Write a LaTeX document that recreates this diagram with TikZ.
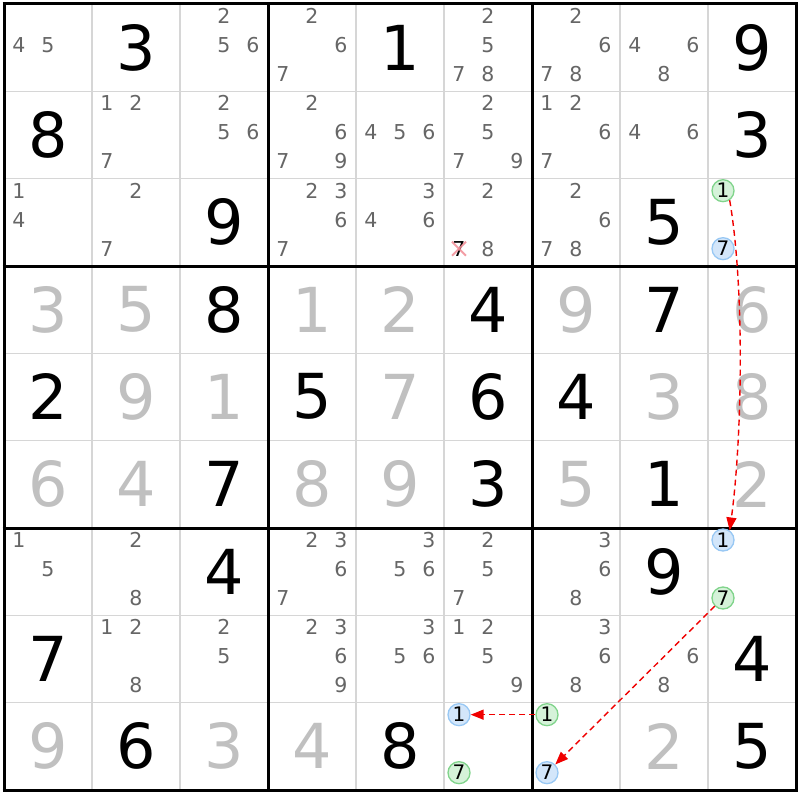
\documentclass[tikz,border=0pt]{standalone}
\usepackage{fontspec}
\setmainfont{DejaVu Sans}
\usetikzlibrary{arrows.meta}
\definecolor{pencil}{HTML}{666666}
\definecolor{solvedgray}{HTML}{C0C0C0}
\definecolor{gridgray}{HTML}{D6D6D6}
\definecolor{gfill}{HTML}{D5F2D9}
\definecolor{gdraw}{HTML}{80D48B}
\definecolor{bfill}{HTML}{D3E6FA}
\definecolor{bdraw}{HTML}{98C8F4}
\definecolor{linkred}{HTML}{F00000}
\definecolor{xpink}{HTML}{F28C96}
\newcommand\bigdig[4]{%
  \pgfmathsetmacro\bx{4+88*#3+44}%
  \pgfmathsetmacro\by{4+87.333*#2+43.5}%
  \node[#1] (d#2#3) at (\bx,\by) {#4};}
\newcommand\pmarks[3]{%
  \foreach \d in {#3}{%
    \pgfmathsetmacro\px{4+88*#2+15+29*mod(\d-1,3)}%
    \pgfmathsetmacro\py{4+87.333*#1+12+29*floor((\d-1)/3)}%
    \node[pmark] (p#1#2-\d) at (\px,\py) {\d};}}
\newcommand\cand[4]{%
  \pgfmathsetmacro\px{4+88*#3+15+29*mod(#4-1,3)}%
  \pgfmathsetmacro\py{4+87.333*#2+12+29*floor((#4-1)/3)}%
  \node[#1] (c#2#3-#4) at (\px,\py) {#4};}
\begin{document}
\begin{tikzpicture}[x=1pt,y=-1pt,
  given/.style={font=\fontsize{62}{62}\selectfont, text=black, inner sep=0pt},
  solved/.style={given, text=solvedgray},
  pmark/.style={font=\fontsize{20.5}{20.5}\selectfont, text=pencil, inner sep=0pt},
  gcand/.style={circle, draw=gdraw, fill=gfill, line width=1.3pt, minimum size=22pt, inner sep=0pt, font=\fontsize{20}{20}\selectfont, text=black},
  bcand/.style={gcand, draw=bdraw, fill=bfill},
  link/.style={draw=linkred, dash pattern=on 6pt off 4pt, line width=1.4pt, -{Triangle[length=13pt,width=10pt,fill=linkred]}},
  thinline/.style={draw=gridgray, line width=1.6pt},
  thickline/.style={draw=black, line width=3pt},
]
\useasboundingbox (0,0) rectangle (800,800);
\fill[white] (0,0) rectangle (800,800);
% thin grid
\foreach \i in {1,2,4,5,7,8}{
  \draw[thinline] (4+88*\i,4) -- (4+88*\i,790);
  \draw[thinline] (4,4+87.333*\i) -- (796,4+87.333*\i);
}
% thick grid
\foreach \i in {0,3,6,9}{
  \draw[thickline] (4+88*\i,2.5) -- (4+88*\i,791.5);
  \draw[thickline] (2.5,4+87.333*\i) -- (797.5,4+87.333*\i);
}
% givens
\bigdig{given}{0}{1}{3}
\bigdig{given}{0}{4}{1}
\bigdig{given}{0}{8}{9}
\bigdig{given}{1}{0}{8}
\bigdig{given}{1}{8}{3}
\bigdig{given}{2}{2}{9}
\bigdig{given}{2}{7}{5}
\bigdig{solved}{3}{0}{3}
\bigdig{solved}{3}{1}{5}
\bigdig{given}{3}{2}{8}
\bigdig{solved}{3}{3}{1}
\bigdig{solved}{3}{4}{2}
\bigdig{given}{3}{5}{4}
\bigdig{solved}{3}{6}{9}
\bigdig{given}{3}{7}{7}
\bigdig{solved}{3}{8}{6}
\bigdig{given}{4}{0}{2}
\bigdig{solved}{4}{1}{9}
\bigdig{solved}{4}{2}{1}
\bigdig{given}{4}{3}{5}
\bigdig{solved}{4}{4}{7}
\bigdig{given}{4}{5}{6}
\bigdig{given}{4}{6}{4}
\bigdig{solved}{4}{7}{3}
\bigdig{solved}{4}{8}{8}
\bigdig{solved}{5}{0}{6}
\bigdig{solved}{5}{1}{4}
\bigdig{given}{5}{2}{7}
\bigdig{solved}{5}{3}{8}
\bigdig{solved}{5}{4}{9}
\bigdig{given}{5}{5}{3}
\bigdig{solved}{5}{6}{5}
\bigdig{given}{5}{7}{1}
\bigdig{solved}{5}{8}{2}
\bigdig{given}{6}{2}{4}
\bigdig{given}{6}{7}{9}
\bigdig{given}{7}{0}{7}
\bigdig{given}{7}{8}{4}
\bigdig{solved}{8}{0}{9}
\bigdig{given}{8}{1}{6}
\bigdig{solved}{8}{2}{3}
\bigdig{solved}{8}{3}{4}
\bigdig{given}{8}{4}{8}
\bigdig{solved}{8}{7}{2}
\bigdig{given}{8}{8}{5}
% pencil marks
\pmarks{0}{0}{4,5}
\pmarks{0}{2}{2,5,6}
\pmarks{0}{3}{2,6,7}
\pmarks{0}{5}{2,5,7,8}
\pmarks{0}{6}{2,6,7,8}
\pmarks{0}{7}{4,6,8}
\pmarks{1}{1}{1,2,7}
\pmarks{1}{2}{2,5,6}
\pmarks{1}{3}{2,6,7,9}
\pmarks{1}{4}{4,5,6}
\pmarks{1}{5}{2,5,7,9}
\pmarks{1}{6}{1,2,6,7}
\pmarks{1}{7}{4,6}
\pmarks{2}{0}{1,4}
\pmarks{2}{1}{2,7}
\pmarks{2}{3}{2,3,6,7}
\pmarks{2}{4}{3,4,6}
\pmarks{2}{5}{2,8}
\pmarks{2}{6}{2,6,7,8}
\pmarks{6}{0}{1,5}
\pmarks{6}{1}{2,8}
\pmarks{6}{3}{2,3,6,7}
\pmarks{6}{4}{3,5,6}
\pmarks{6}{5}{2,5,7}
\pmarks{6}{6}{3,6,8}
\pmarks{7}{1}{1,2,8}
\pmarks{7}{2}{2,5}
\pmarks{7}{3}{2,3,6,9}
\pmarks{7}{4}{3,5,6}
\pmarks{7}{5}{1,2,5,9}
\pmarks{7}{6}{3,6,8}
\pmarks{7}{7}{6,8}
% eliminated candidate
\node[pmark, text=black] (p25-7) at (459,248.7) {7};
\draw[xpink, line width=2pt, opacity=0.85] ([shift={(-7,-7)}]p25-7.center) -- ([shift={(7,7)}]p25-7.center);
\draw[xpink, line width=2pt, opacity=0.85] ([shift={(-7,7)}]p25-7.center) -- ([shift={(7,-7)}]p25-7.center);
% chain candidates
\cand{gcand}{2}{8}{1}
\cand{bcand}{2}{8}{7}
\cand{bcand}{6}{8}{1}
\cand{gcand}{6}{8}{7}
\cand{bcand}{8}{5}{1}
\cand{gcand}{8}{5}{7}
\cand{gcand}{8}{6}{1}
\cand{bcand}{8}{6}{7}
% links
\draw[link] (c28-1.-55) .. controls (745,290) and (742,440) .. (c68-1.55);
\draw[link] (c68-7) -- (c86-7);
\draw[link] (c86-1) -- (c85-1);
\end{tikzpicture}
\end{document}
